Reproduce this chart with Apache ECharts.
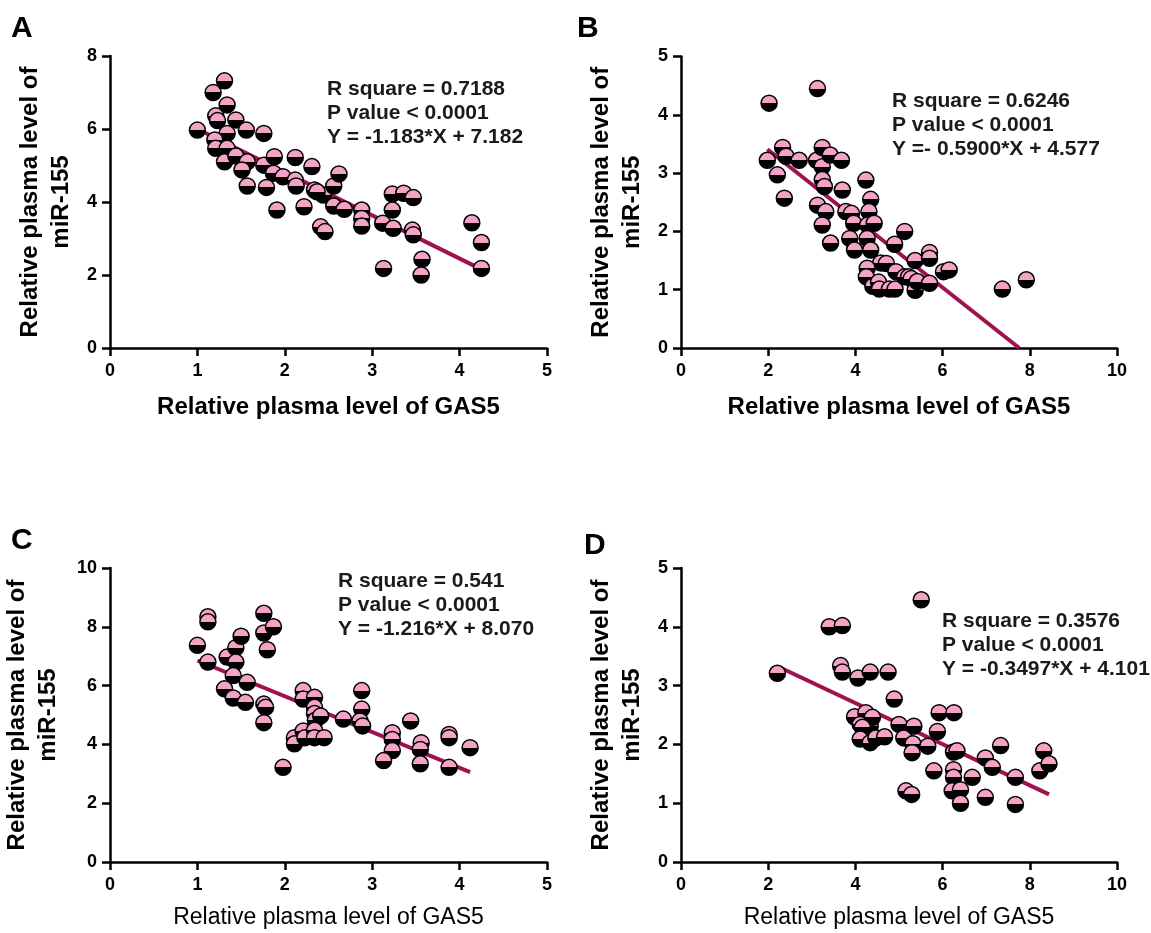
<!DOCTYPE html>
<html>
<head>
<meta charset="utf-8">
<script src="https://cdn.jsdelivr.net/npm/echarts@6/dist/echarts.min.js"></script>
<style>
html,body{margin:0;padding:0;background:#fff;}
#c{width:1151px;height:933px;}
</style>
</head>
<body>
<div id="c"></div>
<script>
// ---------- DATA ----------
const pointsA = [[1.0,5.97],[1.18,7.0],[1.31,7.32],[1.34,6.66],[1.21,6.36],[1.23,6.23],[1.44,6.25],[1.56,5.97],[1.76,5.88],[1.34,5.88],[1.20,5.70],[1.21,5.47],[1.34,5.47],[1.31,5.10],[1.44,5.26],[1.57,5.10],[1.51,4.88],[1.76,5.01],[1.88,5.24],[1.87,4.79],[1.98,4.69],[2.12,5.22],[2.31,4.97],[1.57,4.44],[1.79,4.40],[2.12,4.60],[2.13,4.44],[1.91,3.78],[2.22,3.87],[2.34,4.33],[2.44,4.19],[2.37,4.28],[2.41,3.32],[2.46,3.19],[2.56,4.44],[2.62,4.77],[2.56,3.89],[2.68,3.80],[2.88,3.78],[2.88,3.55],[2.88,3.34],[3.12,3.42],[3.13,2.18],[3.23,4.22],[3.23,3.78],[3.24,3.28],[3.36,4.24],[3.47,4.12],[3.46,3.23],[3.47,3.10],[3.57,2.43],[3.56,2.0],[4.14,3.43],[4.25,2.89],[4.25,2.18]];
const pointsB = [[2.02,4.20],[3.13,4.45],[1.98,3.22],[2.33,3.44],[2.41,3.29],[2.71,3.22],[2.21,2.97],[2.37,2.57],[3.11,3.22],[3.24,3.44],[3.24,3.11],[3.42,3.31],[3.68,3.22],[3.24,2.89],[3.29,2.77],[3.13,2.45],[3.32,2.34],[3.24,2.11],[3.43,1.80],[3.70,2.71],[3.78,2.34],[3.91,2.31],[3.96,2.14],[3.87,1.88],[3.98,1.68],[4.24,2.88],[4.35,2.55],[4.31,2.34],[4.28,2.11],[4.43,2.14],[4.27,1.88],[4.35,1.68],[5.13,2.0],[4.90,1.78],[4.58,1.46],[4.71,1.45],[4.27,1.37],[4.25,1.22],[4.40,1.06],[4.53,1.13],[4.55,1.01],[4.78,1.01],[4.91,1.01],[4.93,1.31],[5.13,1.22],[5.22,1.22],[5.28,1.19],[5.37,0.99],[5.42,1.14],[5.37,1.50],[5.70,1.64],[5.70,1.54],[5.70,1.11],[6.02,1.31],[6.15,1.34],[7.37,1.01],[7.92,1.17]];
const pointsC = [[1.0,7.37],[1.12,8.34],[1.12,8.17],[1.12,6.8],[1.34,6.97],[1.44,7.29],[1.50,7.68],[1.44,6.8],[1.41,6.34],[1.57,6.11],[1.31,5.89],[1.41,5.58],[1.55,5.43],[1.76,8.46],[1.76,7.79],[1.87,8.0],[1.80,7.22],[1.76,5.37],[1.78,5.26],[1.76,4.74],[1.98,3.22],[2.11,4.23],[2.11,4.02],[2.21,5.83],[2.21,5.54],[2.21,4.46],[2.23,4.23],[2.34,5.6],[2.34,5.26],[2.34,5.05],[2.35,4.82],[2.41,4.97],[2.34,4.48],[2.34,4.23],[2.45,4.23],[2.67,4.86],[2.88,5.83],[2.88,5.2],[2.86,4.8],[2.89,4.63],[3.23,4.4],[3.23,4.17],[3.23,3.79],[3.13,3.45],[3.44,4.8],[3.56,4.06],[3.55,3.83],[3.55,3.34],[3.88,4.34],[3.88,4.23],[3.88,3.22],[4.12,3.89]];
const pointsD = [[2.21,3.21],[3.40,4.0],[3.70,4.02],[5.51,4.46],[3.66,3.34],[3.70,3.23],[4.06,3.13],[4.34,3.23],[4.75,3.23],[4.89,2.77],[3.98,2.47],[4.24,2.54],[4.11,2.34],[4.34,2.31],[4.39,2.46],[4.16,2.29],[4.11,2.09],[4.34,2.03],[4.47,2.11],[4.67,2.13],[5.0,2.34],[5.11,2.11],[5.34,2.31],[5.32,2.01],[5.30,1.86],[5.66,1.97],[5.88,2.22],[5.92,2.54],[6.26,2.54],[6.25,1.87],[6.33,1.89],[5.80,1.55],[6.25,1.57],[6.25,1.44],[6.22,1.21],[6.41,1.23],[6.41,1.0],[6.68,1.44],[5.16,1.21],[5.29,1.15],[6.98,1.77],[7.14,1.61],[7.33,1.98],[6.98,1.10],[7.67,1.44],[7.67,0.98],[8.32,1.89],[8.23,1.55],[8.44,1.67]];

// fitted lines: slope, intercept
const fitA = [-1.183, 7.182];
const fitB = [-0.5900, 4.577];
const fitC = [-1.216, 8.070];
const fitD = [-0.3497, 4.101];

const statsA = ['R square = 0.7188','P value < 0.0001','Y = -1.183*X + 7.182'];
const statsB = ['R square = 0.6246','P value < 0.0001','Y =- 0.5900*X + 4.577'];
const statsC = ['R square = 0.541','P value < 0.0001','Y = -1.216*X + 8.070'];
const statsD = ['R square = 0.3576','P value < 0.0001','Y = -0.3497*X + 4.101'];

const panelLetters = ['A','B','C','D'];
const xTitle = 'Relative plasma level of GAS5';
const yTitle = 'Relative plasma level of\nmiR-155';

// axis ranges [min,max,interval]
const xRanges = [[0,5,1],[0,10,2],[0,5,1],[0,10,2]];
const yRanges = [[0,8,2],[0,5,1],[0,10,2],[0,5,1]];

// ---------- CHART ----------
const FONT = '"Liberation Sans", Arial, Helvetica, sans-serif';
const PINK = '#f4a3c7';
const LINE = '#a0124f';

function fitLine(pts, fit, ymin){
  let xs = pts.map(p=>p[0]);
  let x0 = Math.min(...xs), x1 = Math.max(...xs);
  let yAt = x => fit[0]*x + fit[1];
  if (yAt(x1) < ymin) x1 = (ymin - fit[1]) / fit[0];
  return [[x0, yAt(x0)], [x1, yAt(x1)]];
}

const grids = [
  {left:110, top:56, width:437, height:292},
  {left:681, top:56.5, width:436, height:291.5},
  {left:110, top:568, width:437, height:294},
  {left:681, top:568, width:436, height:294}
];
const xNameBold = [true,true,false,false];
const yNameGap = [33,33,46,33];
const xNameGap = [47,47,44,44];

const allPts = [pointsA, pointsB, pointsC, pointsD];
const allFits = [fitA, fitB, fitC, fitD];
const allStats = [statsA, statsB, statsC, statsD];
const statPos = [[327,77],[892,89],[338,569],[942,609]];
const letterPos = [[11,14],[577,14],[11,526],[584,531]];

const markerFill = {
  type:'linear', x:0, y:0, x2:0, y2:1,
  colorStops:[{offset:0,color:PINK},{offset:0.5,color:PINK},{offset:0.5,color:'#000'},{offset:1,color:'#000'}]
};

const xAxis = [], yAxis = [], series = [], graphic = [];
for (let i=0;i<4;i++){
  xAxis.push({
    gridIndex:i, type:'value', min:xRanges[i][0], max:xRanges[i][1], interval:xRanges[i][2],
    name:xTitle, nameLocation:'middle', nameGap:xNameGap[i],
    nameTextStyle:{fontFamily:FONT, fontSize:xNameBold[i]?24:23, fontWeight:xNameBold[i]?'bold':'normal', color:'#000'},
    axisLine:{lineStyle:{color:'#000', width:2.5}},
    axisTick:{length:8, lineStyle:{color:'#000', width:2.5}},
    axisLabel:{fontFamily:FONT, fontSize:18, fontWeight:'bold', color:'#000', margin:14},
    splitLine:{show:false}
  });
  yAxis.push({
    gridIndex:i, type:'value', min:yRanges[i][0], max:yRanges[i][1], interval:yRanges[i][2],
    name:yTitle, nameLocation:'middle', nameGap:yNameGap[i],
    nameTextStyle:{fontFamily:FONT, fontSize:24, fontWeight:'bold', color:'#000', lineHeight:31, align:'center'},
    axisLine:{show:true, lineStyle:{color:'#000', width:2.5}},
    axisTick:{show:true, length:8, lineStyle:{color:'#000', width:2.5}},
    axisLabel:{fontFamily:FONT, fontSize:18, fontWeight:'bold', color:'#000', margin:13},
    splitLine:{show:false}
  });
  series.push({
    type:'line', xAxisIndex:i, yAxisIndex:i, data:fitLine(allPts[i], allFits[i], yRanges[i][0]),
    symbol:'none', lineStyle:{color:LINE, width:4}, z:2, animation:false, silent:true
  });
  series.push({
    type:'scatter', xAxisIndex:i, yAxisIndex:i, data:allPts[i],
    symbol:'circle', symbolSize:16,
    itemStyle:{color:markerFill, borderColor:'#000', borderWidth:1.5, opacity:1},
    z:3, animation:false
  });
  graphic.push({
    type:'text', left:statPos[i][0], top:statPos[i][1],
    style:{text:allStats[i].join('\n'), font:'bold 21px '+FONT, fill:'#1a1a1a', lineHeight:24}
  });
  graphic.push({
    type:'text', left:letterPos[i][0], top:letterPos[i][1],
    style:{text:panelLetters[i], font:'bold 30px '+FONT, fill:'#000'}
  });
}

const chart = echarts.init(document.getElementById('c'), null, {renderer:'canvas'});
chart.setOption({
  backgroundColor:'#fff',
  animation:false,
  grid:grids,
  xAxis:xAxis,
  yAxis:yAxis,
  series:series,
  graphic:graphic
});
</script>
</body>
</html>
